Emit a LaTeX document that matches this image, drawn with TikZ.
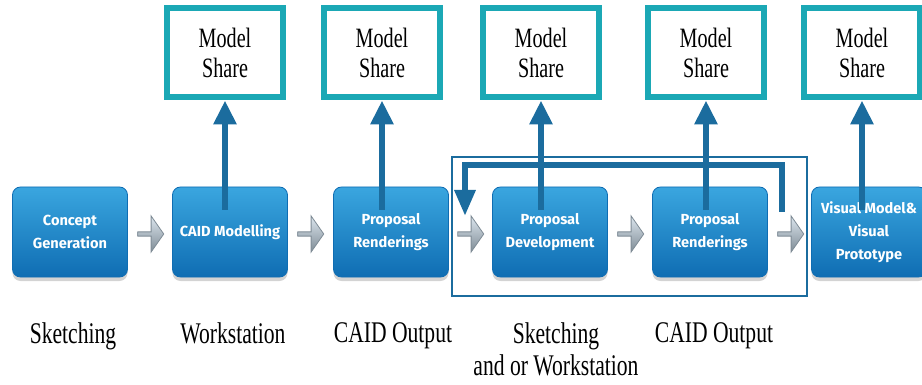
\documentclass[tikz,border=0pt]{standalone}
\usepackage{fontspec}
\newfontfamily\labfont[FakeStretch=0.72]{Liberation Serif}
\newfontfamily\boxfont{Fira Sans}
\usetikzlibrary{arrows.meta,shapes.arrows,shadows}
\definecolor{procblue}{HTML}{1E8ACB}
\definecolor{proctop}{HTML}{3AA6DF}
\definecolor{procbot}{HTML}{0F6DB3}
\definecolor{shareteal}{HTML}{1BA8B5}
\definecolor{arrowblue}{HTML}{1B6C9E}
\definecolor{chevtop}{HTML}{DCE6EE}
\definecolor{chevbot}{HTML}{7F8C96}
\begin{document}
\begin{tikzpicture}[x=0.5pt,y=-0.5pt,
    proc/.style={rounded corners=4pt, draw=procbot, top color=proctop, bottom color=procbot,
        minimum width=57.5pt, minimum height=45pt, text=white, align=center,
        font=\boxfont\bfseries\fontsize{7.3}{11.5}\selectfont,
        drop shadow={shadow xshift=0pt, shadow yshift=-2pt, opacity=0.35}},
    share/.style={draw=shareteal, line width=3pt, minimum width=58pt, minimum height=44.5pt,
        align=center, font=\labfont\fontsize{14}{15}\selectfont},
    chev/.style={single arrow, single arrow head extend=1.5pt, single arrow tip angle=110,
        minimum width=18pt, minimum height=13pt, inner sep=0pt, draw=chevbot,
        top color=chevtop, bottom color=chevbot},
    up/.style={arrowblue, line width=3pt, -{Triangle[width=11pt,length=12pt]}},
    lab/.style={anchor=north, inner sep=0pt, align=center, font=\labfont\fontsize{15}{16}\selectfont}]
\useasboundingbox (0,0) rectangle (922,385);

% Model Share boxes
\node[share] (M1) at (225,53) {Model\\Share};
\node[share] (M2) at (382,53) {Model\\Share};
\node[share] (M3) at (541,53) {Model\\Share};
\node[share] (M4) at (706,53) {Model\\Share};
\node[share] (M5) at (862,53) {Model\\Share};

% Process steps
\node[proc] (B1) at (70,232) {Concept\\Generation};
\node[proc] (B2) at (230,232) {CAID Modelling};
\node[proc] (B3) at (391,232) {Proposal\\Renderings};
\node[proc] (B4) at (550,232) {Proposal\\Development};
\node[proc] (B5) at (710,232) {Proposal\\Renderings};
\node[proc] (B6) at (869,232) {Visual Model\&\\Visual\\Prototype};

% Small arrows between steps
\node[chev] (C1) at (150,234) {};
\node[chev] (C2) at (310,234) {};
\node[chev] (C3) at (470,234) {};
\node[chev] (C4) at (630,234) {};
\node[chev] (C5) at (790,234) {};

% Iteration frame
\draw[arrowblue, line width=0.7pt] (452,157) rectangle (807,296);
\coordinate (L1) at (782,212);
\coordinate (L2) at (465,216);
\draw[up, -{Triangle[width=10pt,length=13pt]}] (L1) -- ++(0,-47) -| (L2);

% Sharing
\draw[up] (M1 |- B2.north) ++(0,23) -- (M1.south);
\draw[up] (M2 |- B3.north) ++(0,23) -- (M2.south);
\draw[up] (M3 |- B4.north) ++(0,23) -- (M3.south);
\draw[up] (M4 |- B5.north) ++(0,23) -- (M4.south);
\draw[up] (M5 |- B6.north) ++(0,23) -- (M5.south);

% Tools
\node[lab] (T1) at (73,322.5) {Sketching};
\node[lab] (T2) at (233,322.5) {Workstation};
\node[lab] (T3) at (393,322.5) {CAID Output};
\node[lab] (T4) at (556,322.5) {Sketching\\and or Workstation};
\node[lab] (T5) at (714,322.5) {CAID Output};
\end{tikzpicture}
\end{document}
